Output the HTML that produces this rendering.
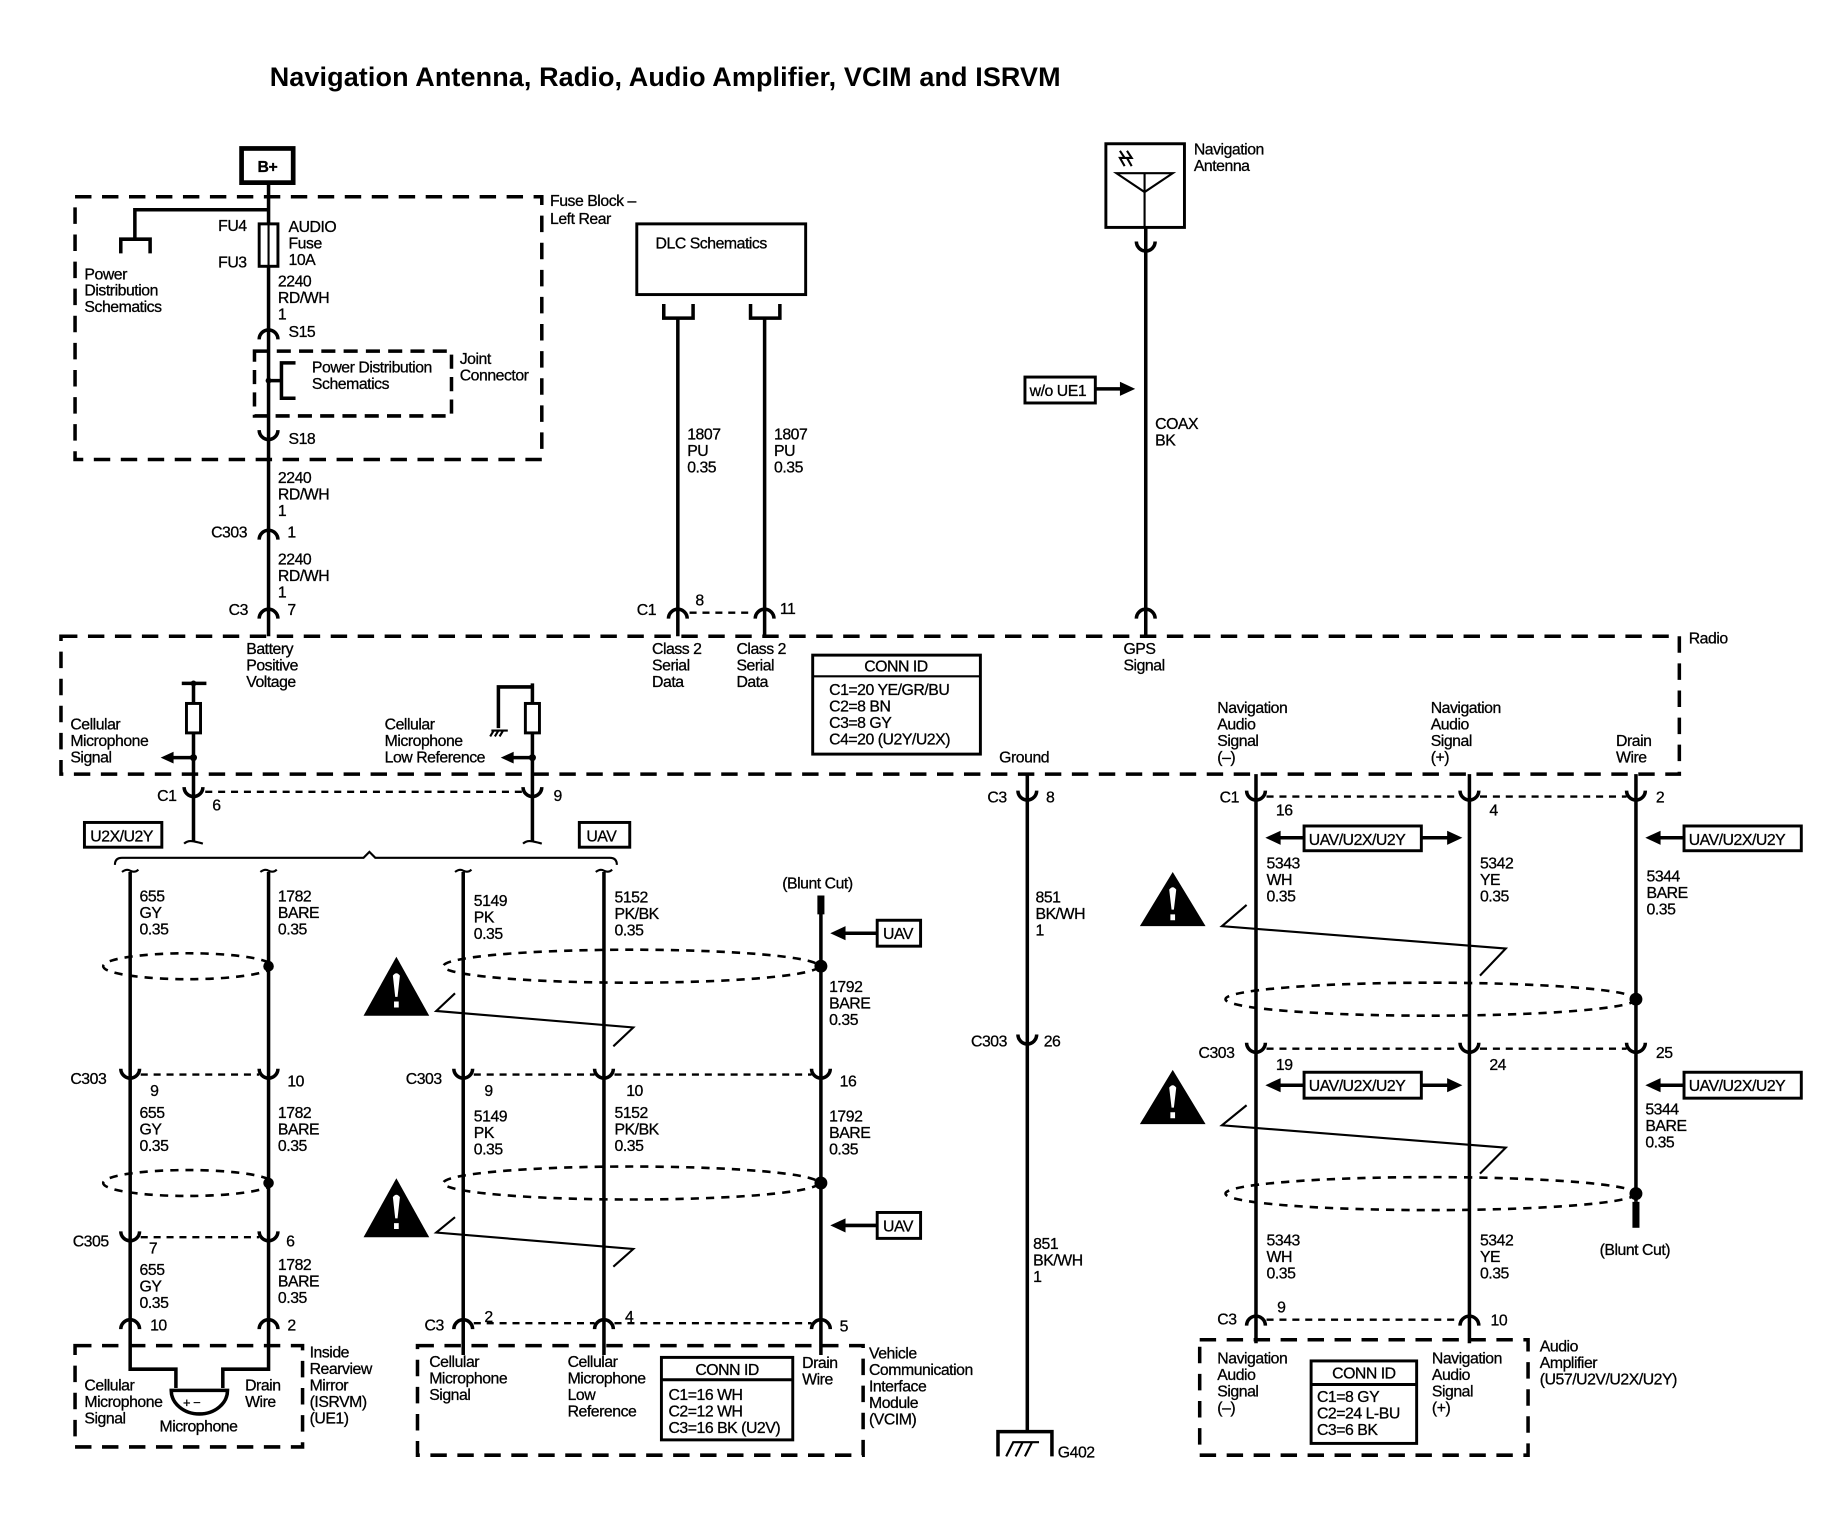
<!DOCTYPE html>
<html><head><meta charset="utf-8"><style>
html,body{margin:0;padding:0;background:#fff;}
svg{display:block;}
text{font-family:"Liberation Sans",sans-serif;font-size:13.5px;fill:#000;letter-spacing:-0.4px;stroke:#000;stroke-width:0.25px;}
.t{font-size:23px;font-weight:bold;letter-spacing:0.1px;stroke-width:0;}
.b{font-weight:bold;}
.w{stroke:#000;stroke-width:3;fill:none;}
.tw{stroke:#000;stroke-width:1.8;fill:none;}
.db{stroke:#000;stroke-width:3;fill:none;stroke-dasharray:14 9;}
.dc{stroke:#000;stroke-width:2;fill:none;stroke-dasharray:6 5;}
.el{stroke:#000;stroke-width:2.2;fill:none;stroke-dasharray:7 6;}
.bx{stroke:#000;stroke-width:2.5;fill:#fff;}
</style></head><body>
<svg width="1840" height="1520" viewBox="0 0 1569 1290" preserveAspectRatio="none" xmlns="http://www.w3.org/2000/svg">
<text x="230" y="73" class="t">Navigation Antenna, Radio, Audio Amplifier, VCIM and ISRVM</text>

<!-- B+ -->
<rect x="206" y="126" width="44" height="29" fill="none" stroke="#000" stroke-width="4"/>
<text x="228" y="146" text-anchor="middle" class="b">B+</text>
<path class="w" d="M229 155 V540"/>
<rect class="db" x="64" y="167" width="398" height="223"/>
<text x="469" y="175">Fuse Block –</text><text x="469" y="190">Left Rear</text>
<path class="w" d="M229 178 H115 V203 M103 215 V203 H128 V215"/>
<text x="72" y="237">Power</text><text x="72" y="251">Distribution</text><text x="72" y="265">Schematics</text>
<rect x="221" y="190" width="16" height="36" fill="#fff" stroke="#000" stroke-width="2.5"/>
<path class="tw" d="M229 190 V226"/>
<text x="186" y="196">FU4</text><text x="186" y="227">FU3</text>
<text x="246" y="197">AUDIO</text><text x="246" y="211">Fuse</text><text x="246" y="225">10A</text>
<text x="237" y="243">2240</text><text x="237" y="257">RD/WH</text><text x="237" y="271">1</text>
<path class="w" d="M221 288 A8 8 0 0 1 237 288"/><text x="246" y="286">S15</text>
<rect class="db" x="217" y="298" width="168" height="55" style="stroke-dasharray:12 7"/>
<circle cx="229" cy="323" r="2.5"/>
<path class="w" d="M229 323 H240 M252 308 H240 V338 H252"/>
<text x="266" y="316">Power Distribution</text><text x="266" y="330">Schematics</text>
<text x="392" y="309">Joint</text><text x="392" y="323">Connector</text>
<path class="w" d="M221 365 A8 8 0 0 0 237 365"/><text x="246" y="377">S18</text>
<text x="237" y="410">2240</text><text x="237" y="424">RD/WH</text><text x="237" y="438">1</text>
<path class="w" d="M221 458 A8 8 0 0 1 237 458"/><text x="180" y="456">C303</text><text x="245" y="456">1</text>
<text x="237" y="479">2240</text><text x="237" y="493">RD/WH</text><text x="237" y="507">1</text>
<path class="w" d="M221 525 A8 8 0 0 1 237 525"/><text x="195" y="522">C3</text><text x="245" y="522">7</text>

<!-- Radio box -->
<rect class="db" x="52" y="540" width="1380" height="117"/>
<text x="1440" y="546">Radio</text>
<text x="210" y="555">Battery</text><text x="210" y="569">Positive</text><text x="210" y="583">Voltage</text>

<!-- DLC -->
<rect x="543" y="190" width="144" height="60" fill="none" stroke="#000" stroke-width="2.5"/>
<text x="559" y="211">DLC Schematics</text>
<path class="w" d="M566 258 V270 H591 V258 M578 270 V540 M640 258 V270 H665 V258 M652 270 V540"/>
<text x="586" y="373">1807</text><text x="586" y="387">PU</text><text x="586" y="401">0.35</text>
<text x="660" y="373">1807</text><text x="660" y="387">PU</text><text x="660" y="401">0.35</text>
<path class="w" d="M570 525 A8 8 0 0 1 586 525 M644 525 A8 8 0 0 1 660 525"/>
<path class="dc" d="M588 520 H643"/>
<text x="543" y="522">C1</text><text x="593" y="514">8</text><text x="665" y="521">11</text>
<text x="556" y="555">Class 2</text><text x="556" y="569">Serial</text><text x="556" y="583">Data</text>
<text x="628" y="555">Class 2</text><text x="628" y="569">Serial</text><text x="628" y="583">Data</text>
<rect x="693" y="556" width="143" height="84" fill="none" stroke="#000" stroke-width="2.5"/>
<path class="tw" d="M693 574 H836" stroke-width="2.5"/>
<text x="764" y="570" text-anchor="middle">CONN ID</text>
<text x="707" y="590">C1=20 YE/GR/BU</text><text x="707" y="604">C2=8 BN</text><text x="707" y="618">C3=8 GY</text><text x="707" y="632">C4=20 (U2Y/U2X)</text>

<!-- Nav antenna -->
<rect x="943" y="122" width="67" height="71" fill="none" stroke="#000" stroke-width="2.5"/>
<path class="tw" d="M952 147 H1000 L976 163 Z M976 147 V193" stroke-width="2"/>
<path class="tw" d="M955 128 L959 134 L955 134 L959 141 M961 128 L965 134 L961 134 L965 141" stroke-width="1.3"/>
<text x="1018" y="131">Navigation</text><text x="1018" y="145">Antenna</text>
<path class="w" d="M977 193 V540"/>
<path class="w" d="M969 205 A8 8 0 0 0 985 205"/>
<path class="w" d="M969 525 A8 8 0 0 1 985 525"/>
<rect x="874" y="320" width="60" height="22" fill="none" stroke="#000" stroke-width="2.5"/>
<text x="878" y="336">w/o UE1</text>
<path class="w" d="M934 330 H958"/><path d="M955 324 L968 330 L955 336 Z"/>
<text x="985" y="364">COAX</text><text x="985" y="378">BK</text>
<text x="958" y="555">GPS</text><text x="958" y="569">Signal</text>

<!-- Radio internal left -->
<path class="w" d="M155 580 H176 M165 580 V714"/>
<circle cx="165" cy="580" r="2.5"/>
<rect x="159" y="597" width="12" height="25" class="bx"/>
<circle cx="165" cy="643" r="3"/><path class="w" d="M165 643 H145"/><path d="M148 638 L137 643 L148 648 Z"/>
<text x="60" y="619">Cellular</text><text x="60" y="633">Microphone</text><text x="60" y="647">Signal</text>
<path class="w" d="M454 580 V714 M454 583 H425 V618"/>
<path class="tw" d="M419 620 H433 M421 620 L418 625 M425 620 L422 625 M429 620 L426 625" stroke-width="1.5"/>
<rect x="448" y="597" width="12" height="25" class="bx"/>
<circle cx="454" cy="643" r="3"/><path class="w" d="M454 643 H435"/><path d="M438 638 L427 643 L438 648 Z"/>
<text x="328" y="619">Cellular</text><text x="328" y="633">Microphone</text><text x="328" y="647">Low Reference</text>
<path class="w" d="M157 668 A8 8 0 0 0 173 668 M446 668 A8 8 0 0 0 462 668"/>
<path class="dc" d="M175 672 H445"/>
<text x="134" y="680">C1</text><text x="181" y="688">6</text><text x="472" y="680">9</text>
<path class="tw" d="M157 716 Q160 713 165 714 Q170 715 173 716 M446 716 Q449 713 454 714 Q459 715 462 716"/>
<rect x="72" y="698" width="66" height="21" fill="none" stroke="#000" stroke-width="2.5"/><text x="77" y="714">U2X/U2Y</text>
<rect x="494" y="698" width="43" height="21" fill="none" stroke="#000" stroke-width="2.5"/><text x="500" y="714">UAV</text>
<path class="tw" d="M98 734 Q98 728 104 728 H310 L315 723 L320 728 H520 Q526 728 526 734"/>

<!-- left group wires -->
<path class="w" d="M111 740 V1150 M229 740 V1150 M395 740 V1150 M515 740 V1150"/>
<path class="tw" d="M104 740 Q108 737 111 739 Q115 741 118 738 M222 740 Q226 737 229 739 Q233 741 236 738 M388 740 Q392 737 395 739 Q399 741 402 738 M508 740 Q512 737 515 739 Q519 741 522 738"/>
<text x="119" y="765">655</text><text x="119" y="779">GY</text><text x="119" y="793">0.35</text>
<text x="237" y="765">1782</text><text x="237" y="779">BARE</text><text x="237" y="793">0.35</text>
<text x="404" y="769">5149</text><text x="404" y="783">PK</text><text x="404" y="797">0.35</text>
<text x="524" y="766">5152</text><text x="524" y="780">PK/BK</text><text x="524" y="794">0.35</text>
<ellipse class="el" cx="160" cy="820" rx="72" ry="11"/><circle cx="229" cy="820" r="4.5"/>
<ellipse class="el" cx="538" cy="820" rx="160" ry="14"/><circle cx="700" cy="820" r="5.5"/>
<!-- drain VCIM -->
<path class="w" d="M700 760 V1150"/><rect x="697" y="760" width="6" height="16"/>
<text x="667" y="754">(Blunt Cut)</text>
<rect x="748" y="781" width="37" height="22" fill="none" stroke="#000" stroke-width="2.5"/><text x="753" y="797">UAV</text>
<path class="w" d="M748 792 H718"/><path d="M721 786 L708 792 L721 798 Z"/>
<text x="707" y="842">1792</text><text x="707" y="856">BARE</text><text x="707" y="870">0.35</text>
<path d="M338 812 L366 862 L310 862 Z"/><path d="M335 828 Q338 824 341 828 L339 846 H337 Z M336 850 H340 V855 H336 Z" fill="#fff"/>
<path class="tw" d="M388 843 L372 858 L540 872 L523 888" stroke-width="2.2"/>
<!-- C303 row -->
<path class="w" d="M103 907 A8 8 0 0 0 119 907 M221 907 A8 8 0 0 0 237 907 M387 907 A8 8 0 0 0 403 907 M507 907 A8 8 0 0 0 523 907 M692 907 A8 8 0 0 0 708 907"/>
<path class="dc" d="M120 912 H221 M404 912 H507 M524 912 H692"/>
<text x="60" y="920">C303</text><text x="128" y="930">9</text><text x="245" y="922">10</text>
<text x="346" y="920">C303</text><text x="413" y="930">9</text><text x="534" y="930">10</text><text x="716" y="922">16</text>
<text x="119" y="949">655</text><text x="119" y="963">GY</text><text x="119" y="977">0.35</text>
<text x="237" y="949">1782</text><text x="237" y="963">BARE</text><text x="237" y="977">0.35</text>
<text x="404" y="952">5149</text><text x="404" y="966">PK</text><text x="404" y="980">0.35</text>
<text x="524" y="949">5152</text><text x="524" y="963">PK/BK</text><text x="524" y="977">0.35</text>
<text x="707" y="952">1792</text><text x="707" y="966">BARE</text><text x="707" y="980">0.35</text>
<ellipse class="el" cx="160" cy="1004" rx="72" ry="11"/><circle cx="229" cy="1004" r="4.5"/>
<ellipse class="el" cx="538" cy="1004" rx="160" ry="14"/><circle cx="700" cy="1004" r="5.5"/>
<path d="M338 1000 L366 1050 L310 1050 Z"/><path d="M335 1016 Q338 1012 341 1016 L339 1034 H337 Z M336 1038 H340 V1043 H336 Z" fill="#fff"/>
<path class="tw" d="M388 1033 L372 1046 L540 1060 L523 1075" stroke-width="2.2"/>
<rect x="748" y="1029" width="37" height="22" fill="none" stroke="#000" stroke-width="2.5"/><text x="753" y="1045">UAV</text>
<path class="w" d="M748 1040 H718"/><path d="M721 1034 L708 1040 L721 1046 Z"/>
<!-- C305 -->
<path class="w" d="M103 1045 A8 8 0 0 0 119 1045 M221 1045 A8 8 0 0 0 237 1045"/>
<path class="dc" d="M120 1050 H221"/>
<text x="62" y="1058">C305</text><text x="127" y="1064">7</text><text x="244" y="1058">6</text>
<text x="119" y="1082">655</text><text x="119" y="1096">GY</text><text x="119" y="1110">0.35</text>
<text x="237" y="1078">1782</text><text x="237" y="1092">BARE</text><text x="237" y="1106">0.35</text>
<!-- bottom connectors -->
<path class="w" d="M103 1128 A8 8 0 0 1 119 1128 M221 1128 A8 8 0 0 1 237 1128 M387 1128 A8 8 0 0 1 403 1128 M507 1128 A8 8 0 0 1 523 1128 M692 1128 A8 8 0 0 1 708 1128"/>
<path class="dc" d="M404 1123 H507 M524 1123 H692"/>
<text x="128" y="1129">10</text><text x="245" y="1129">2</text>
<text x="362" y="1129">C3</text><text x="413" y="1122">2</text><text x="533" y="1122">4</text><text x="716" y="1130">5</text>
<!-- ISRVM -->
<rect class="db" x="64" y="1142" width="194" height="86"/>
<path class="w" d="M111 1150 V1162 H150 V1178 M229 1150 V1162 H190 V1178"/>
<path class="w" d="M146 1180 H194 A24 20 0 0 1 146 1180 Z" fill="#fff"/>
<text x="156" y="1194" style="font-size:11px">+ −</text>
<text x="72" y="1180">Cellular</text><text x="72" y="1194">Microphone</text><text x="72" y="1208">Signal</text>
<text x="209" y="1180">Drain</text><text x="209" y="1194">Wire</text>
<text x="136" y="1215">Microphone</text>
<text x="264" y="1152">Inside</text><text x="264" y="1166">Rearview</text><text x="264" y="1180">Mirror</text><text x="264" y="1194">(ISRVM)</text><text x="264" y="1208">(UE1)</text>
<!-- VCIM -->
<rect class="db" x="356" y="1142" width="380" height="93"/>
<text x="366" y="1160">Cellular</text><text x="366" y="1174">Microphone</text><text x="366" y="1188">Signal</text>
<text x="484" y="1160">Cellular</text><text x="484" y="1174">Microphone</text><text x="484" y="1188">Low</text><text x="484" y="1202">Reference</text>
<text x="684" y="1161">Drain</text><text x="684" y="1175">Wire</text>
<rect x="564" y="1152" width="112" height="70" fill="none" stroke="#000" stroke-width="2.5"/>
<path d="M564 1171 H676" stroke="#000" stroke-width="2.5"/>
<text x="620" y="1167" text-anchor="middle">CONN ID</text>
<text x="570" y="1188">C1=16 WH</text><text x="570" y="1202">C2=12 WH</text><text x="570" y="1216">C3=16 BK (U2V)</text>
<text x="741" y="1153">Vehicle</text><text x="741" y="1167">Communication</text><text x="741" y="1181">Interface</text><text x="741" y="1195">Module</text><text x="741" y="1209">(VCIM)</text>

<!-- Ground -->
<text x="852" y="647">Ground</text>
<path class="w" d="M876 657 V1216"/>
<path class="w" d="M868 671 A8 8 0 0 0 884 671 M868 878 A8 8 0 0 0 884 878"/>
<text x="842" y="681">C3</text><text x="892" y="681">8</text>
<text x="883" y="766">851</text><text x="883" y="780">BK/WH</text><text x="883" y="794">1</text>
<text x="828" y="888">C303</text><text x="890" y="888">26</text>
<text x="881" y="1060">851</text><text x="881" y="1074">BK/WH</text><text x="881" y="1088">1</text>
<path class="w" d="M851 1236 V1215 H897 V1236"/>
<path class="tw" d="M858 1236 L864 1224 H886 M866 1236 L872 1224 M874 1236 L880 1224" stroke-width="2"/>
<text x="902" y="1237">G402</text>

<!-- Right section -->
<text x="1038" y="605">Navigation</text><text x="1038" y="619">Audio</text><text x="1038" y="633">Signal</text><text x="1038" y="647">(–)</text>
<text x="1220" y="605">Navigation</text><text x="1220" y="619">Audio</text><text x="1220" y="633">Signal</text><text x="1220" y="647">(+)</text>
<text x="1378" y="633">Drain</text><text x="1378" y="647">Wire</text>
<path class="w" d="M1071 657 V1140 M1253 657 V1140 M1395 657 V1020"/>
<rect x="1392" y="1020" width="6" height="22"/>
<path class="w" d="M1063 671 A8 8 0 0 0 1079 671 M1245 671 A8 8 0 0 0 1261 671 M1387 671 A8 8 0 0 0 1403 671"/>
<path class="dc" d="M1080 676 H1245 M1262 676 H1387"/>
<text x="1040" y="681">C1</text><text x="1088" y="692">16</text><text x="1270" y="692">4</text><text x="1412" y="681">2</text>
<rect x="1112" y="701" width="100" height="21" fill="none" stroke="#000" stroke-width="2.5"/><text x="1116" y="717">UAV/U2X/U2Y</text>
<path class="w" d="M1112 711 H1090 M1212 711 H1236"/><path d="M1092 705 L1079 711 L1092 717 Z M1234 705 L1247 711 L1234 717 Z"/>
<rect x="1436" y="701" width="100" height="21" fill="none" stroke="#000" stroke-width="2.5"/><text x="1440" y="717">UAV/U2X/U2Y</text>
<path class="w" d="M1436 711 H1414"/><path d="M1416 705 L1403 711 L1416 717 Z"/>
<text x="1080" y="737">5343</text><text x="1080" y="751">WH</text><text x="1080" y="765">0.35</text>
<text x="1262" y="737">5342</text><text x="1262" y="751">YE</text><text x="1262" y="765">0.35</text>
<text x="1404" y="748">5344</text><text x="1404" y="762">BARE</text><text x="1404" y="776">0.35</text>
<path d="M1000 740 L1028 786 L972 786 Z"/><path d="M997 755 Q1000 751 1003 755 L1001 772 H999 Z M998 776 H1002 V781 H998 Z" fill="#fff"/>
<path class="tw" d="M1063 768 L1042 786 L1284 805 L1262 828" stroke-width="2.2"/>
<ellipse class="el" cx="1220" cy="848" rx="175" ry="14"/><circle cx="1395" cy="848" r="5.5"/>
<path class="w" d="M1063 885 A8 8 0 0 0 1079 885 M1245 885 A8 8 0 0 0 1261 885 M1387 885 A8 8 0 0 0 1403 885"/>
<path class="dc" d="M1080 890 H1245 M1262 890 H1387"/>
<text x="1022" y="898">C303</text><text x="1088" y="908">19</text><text x="1270" y="908">24</text><text x="1412" y="898">25</text>
<rect x="1112" y="910" width="100" height="22" fill="none" stroke="#000" stroke-width="2.5"/><text x="1116" y="926">UAV/U2X/U2Y</text>
<path class="w" d="M1112 921 H1090 M1212 921 H1236"/><path d="M1092 915 L1079 921 L1092 927 Z M1234 915 L1247 921 L1234 927 Z"/>
<rect x="1436" y="910" width="100" height="22" fill="none" stroke="#000" stroke-width="2.5"/><text x="1440" y="926">UAV/U2X/U2Y</text>
<path class="w" d="M1436 921 H1414"/><path d="M1416 915 L1403 921 L1416 927 Z"/>
<text x="1403" y="946">5344</text><text x="1403" y="960">BARE</text><text x="1403" y="974">0.35</text>
<path d="M1000 908 L1028 954 L972 954 Z"/><path d="M997 923 Q1000 919 1003 923 L1001 940 H999 Z M998 944 H1002 V949 H998 Z" fill="#fff"/>
<path class="tw" d="M1063 938 L1042 955 L1284 974 L1262 996" stroke-width="2.2"/>
<ellipse class="el" cx="1220" cy="1013" rx="175" ry="14"/><circle cx="1395" cy="1013" r="5.5"/>
<text x="1364" y="1065">(Blunt Cut)</text>
<text x="1080" y="1057">5343</text><text x="1080" y="1071">WH</text><text x="1080" y="1085">0.35</text>
<text x="1262" y="1057">5342</text><text x="1262" y="1071">YE</text><text x="1262" y="1085">0.35</text>
<path class="w" d="M1063 1125 A8 8 0 0 1 1079 1125 M1245 1125 A8 8 0 0 1 1261 1125"/>
<path class="dc" d="M1080 1120 H1245"/>
<text x="1038" y="1124">C3</text><text x="1089" y="1114">9</text><text x="1271" y="1125">10</text>
<rect class="db" x="1023" y="1137" width="280" height="98"/>
<text x="1038" y="1157">Navigation</text><text x="1038" y="1171">Audio</text><text x="1038" y="1185">Signal</text><text x="1038" y="1199">(–)</text>
<text x="1221" y="1157">Navigation</text><text x="1221" y="1171">Audio</text><text x="1221" y="1185">Signal</text><text x="1221" y="1199">(+)</text>
<rect x="1118" y="1155" width="90" height="70" fill="none" stroke="#000" stroke-width="2.5"/>
<path d="M1118 1175 H1208" stroke="#000" stroke-width="2.5"/>
<text x="1163" y="1170" text-anchor="middle">CONN ID</text>
<text x="1123" y="1190">C1=8 GY</text><text x="1123" y="1204">C2=24 L-BU</text><text x="1123" y="1218">C3=6 BK</text>
<text x="1313" y="1147">Audio</text><text x="1313" y="1161">Amplifier</text><text x="1313" y="1175">(U57/U2V/U2X/U2Y)</text>
</svg>
</body></html>
